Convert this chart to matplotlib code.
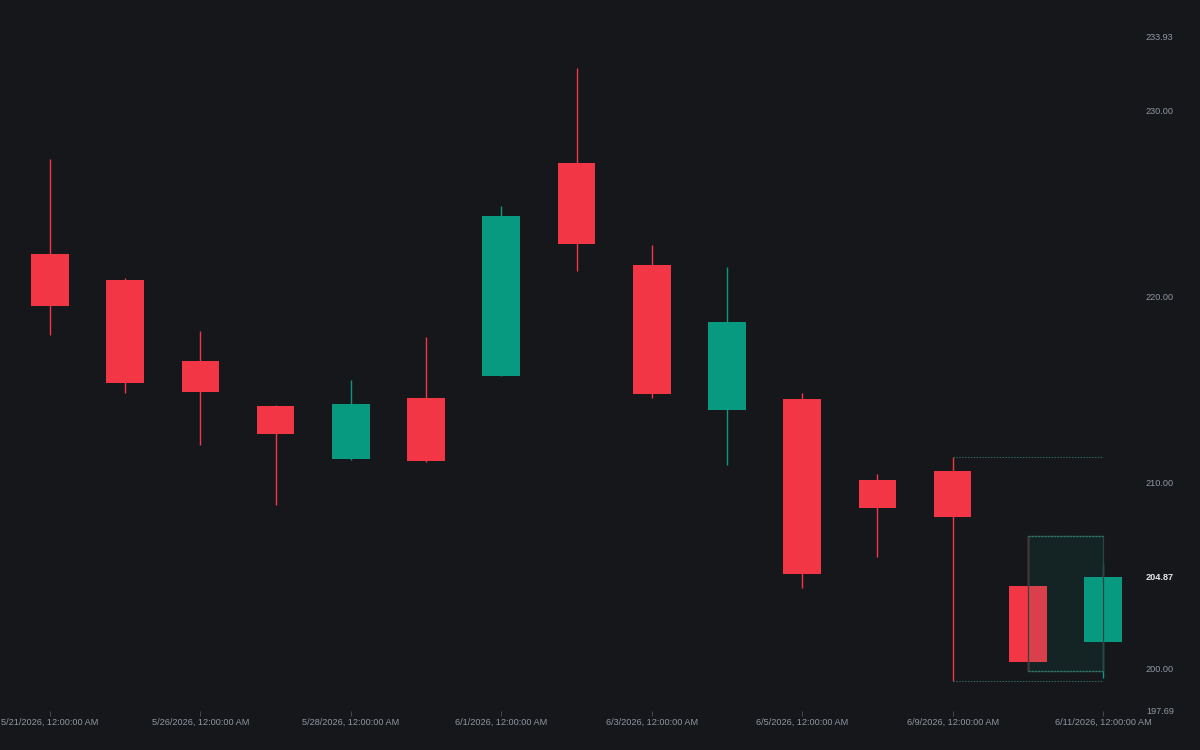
import matplotlib
matplotlib.use("Agg")
import matplotlib.pyplot as plt
from matplotlib.patches import Rectangle
import matplotlib.transforms as mtrans

# ---- data ----
dates = ["5/21/2026", "5/22/2026", "5/26/2026", "5/27/2026", "5/28/2026",
         "5/29/2026", "6/1/2026", "6/2/2026", "6/3/2026", "6/4/2026",
         "6/5/2026", "6/8/2026", "6/9/2026", "6/10/2026", "6/11/2026"]
opens  = [222.26, 220.86, 216.51, 214.09, 211.24, 214.52, 215.70, 227.15,
          221.67, 213.87, 214.46, 210.11, 210.57, 204.39, 201.41]
highs  = [227.37, 220.95, 218.12, 214.12, 215.48, 217.80, 224.84, 232.26,
          222.74, 221.56, 214.78, 210.43, 211.36, 207.11, 205.59]
lows   = [217.90, 214.78, 211.99, 208.76, 211.20, 211.10, 215.70, 221.34,
          214.52, 210.91, 204.30, 205.97, 199.30, 199.85, 199.46]
closes = [219.46, 215.32, 214.84, 212.58, 214.19, 211.13, 224.30, 222.80,
          214.73, 218.60, 205.05, 208.60, 208.12, 200.34, 204.87]
y_ticks = [197.69, 200.00, 210.00, 220.00, 230.00, 233.93]
last_price = 204.87
x_tick_idx = [0, 2, 4, 6, 8, 10, 12, 14]

# ---- style ----
BG = "#16171b"
UP = "#089981"
DOWN = "#f23645"
TXT = "#8f98a3"

fig = plt.figure(figsize=(12, 7.5), dpi=100, facecolor=BG)
ax = fig.add_axes([0, 39 / 750, 1140 / 1200, 674 / 750])
ax.set_facecolor(BG)

n = len(dates)
spacing_px = (1103 - 50) / (n - 1)
ax.set_xlim(-50 / spacing_px, (1140 - 50) / spacing_px)
ax.set_ylim(y_ticks[0], y_ticks[-1])

bw = 0.5
for i in range(n):
    o, h, l, c = opens[i], highs[i], lows[i], closes[i]
    col = UP if c >= o else DOWN
    ax.vlines(i, l, h, color=col, lw=1, zorder=2)
    ax.add_patch(Rectangle((i - bw / 2, min(o, c)), bw, abs(c - o),
                           facecolor=col, edgecolor="none", zorder=3))

# inside-bar style annotation
m = 12  # mother bar
ax.hlines([highs[m], lows[m]], m, n - 1, colors="#2b6a5d", lw=0.8,
          linestyles=(0, (1.3, 1.3)), zorder=4)
b = 13
ax.add_patch(Rectangle((b, lows[b]), (n - 1) - b, highs[b] - lows[b],
                       facecolor=UP, alpha=0.1, edgecolor="none", zorder=5))
ax.add_patch(Rectangle((b, lows[b]), (n - 1) - b, highs[b] - lows[b],
                       facecolor="none", edgecolor="#2a4440", lw=0.9, zorder=5))
ax.hlines([highs[b], lows[b]], b, n - 1, colors="#2e7a6c", lw=1,
          linestyles=(0, (1.3, 1.0)), zorder=6)

# axes styling
for s in ax.spines.values():
    s.set_visible(False)

ax.yaxis.tick_right()
ax.set_yticks(y_ticks)
ax.set_yticklabels([f"{v:.2f}" for v in y_ticks])
ax.tick_params(axis="y", length=0, pad=4.3, labelsize=6.6, labelcolor=TXT)
for lab in ax.get_yticklabels():
    lab.set_fontfamily("Liberation Sans")
    lab.set_horizontalalignment("left")

ax.text(1.0, last_price, f"{last_price:.2f}",
        transform=ax.get_yaxis_transform() +
        mtrans.ScaledTranslation(6 / 100, 0, fig.dpi_scale_trans),
        ha="left", va="center", fontsize=6.6, fontweight="bold",
        color="#e6e8ec", family="Liberation Sans")

ax.set_xticks(x_tick_idx)
ax.set_xticklabels([f"{dates[i]}, 12:00:00 AM" for i in x_tick_idx])
ax.tick_params(axis="x", length=3.5, width=0.6, color="#4a4f57", pad=1.5,
               labelsize=6.6, labelcolor=TXT)
for lab in ax.get_xticklabels():
    lab.set_fontfamily("Liberation Sans")

fig.savefig("out.png", dpi=100, facecolor=BG)
